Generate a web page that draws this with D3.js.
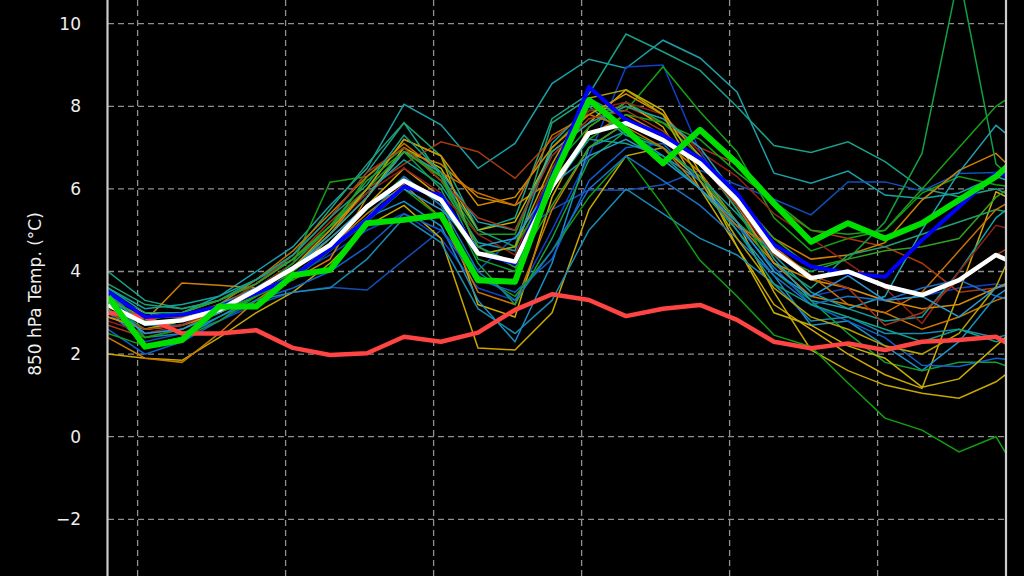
<!DOCTYPE html>
<html>
<head>
<meta charset="utf-8">
<script src="https://cdn.jsdelivr.net/npm/d3@7"></script>
<style>
  html, body { margin: 0; padding: 0; background: #000; }
  svg { display: block; }
</style>
</head>
<body>
<svg id="chart" width="1024" height="576"></svg>
<script>
// lead time of each point (hours, 6-hourly)
const leadHours = [0, 6, 12, 18, 24, 30, 36, 42, 48, 54, 60, 66, 72, 78, 84, 90, 96, 102, 108, 114, 120, 126, 132, 138, 144, 150];
const gridHours = [4.8, 28.8, 52.8, 76.8, 100.8, 124.8];
const yTicks = [-2, 0, 2, 4, 6, 8, 10];

// highlighted series
const ensMean  = [3.19, 2.74, 2.82, 3.07, 3.55, 4.08, 4.64, 5.57, 6.2, 5.73, 4.44, 4.24, 6.05, 7.35, 7.59, 7.18, 6.62, 5.73, 4.5, 3.84, 4.0, 3.65, 3.43, 3.79, 4.4, 4.0];
const detRun   = [3.51, 2.9, 2.95, 3.15, 3.47, 3.87, 4.55, 5.25, 6.05, 5.85, 4.45, 4.2, 6.3, 8.47, 7.67, 7.3, 6.74, 5.89, 4.65, 4.12, 3.96, 3.87, 4.76, 5.57, 6.38, 6.2];
const ctrlRun  = [3.39, 2.18, 2.34, 3.15, 3.15, 3.91, 4.04, 5.17, 5.25, 5.37, 3.79, 3.75, 6.2, 8.15, 7.43, 6.62, 7.43, 6.62, 5.65, 4.72, 5.17, 4.8, 5.17, 5.73, 6.3, 7.1];
const climate  = [3.0, 2.9, 2.5, 2.5, 2.58, 2.15, 1.98, 2.02, 2.42, 2.3, 2.52, 3.07, 3.45, 3.31, 2.92, 3.1, 3.19, 2.83, 2.3, 2.14, 2.26, 2.1, 2.3, 2.34, 2.42, 1.9];

// ensemble members
const memberColors = [
  "#1aa0a8", "#18a088", "#1040c8", "#14a014", "#1050b8", "#a83a10",
  "#c8a800", "#d0a800", "#d08000", "#c87800", "#1a90c8", "#12a0a0",
  "#10a030", "#1060d0", "#902018", "#c8b000", "#20a070", "#d88a00",
  "#1a8ab0", "#18a018", "#12a040", "#10a010", "#c87000", "#20a0b0",
  "#1a70c8", "#b8a000", "#a03818", "#10a088", "#2a98d0", "#30a020"
];
const members = [
  [3.5, 2.9, 3.0, 3.4, 4.0, 4.6, 5.6, 6.5, 8.05, 7.55, 6.5, 7.1, 8.55, 9.14, 8.92, 9.6, 9.17, 8.35, 6.38, 6.14, 6.43, 5.85, 5.77, 5.9, 6.3, 6.0],
  [4.0, 3.3, 3.1, 3.3, 3.8, 4.4, 5.3, 6.4, 7.6, 6.3, 5.0, 5.3, 7.7, 8.3, 9.75, 9.32, 8.87, 7.99, 7.05, 6.88, 7.14, 6.66, 6.01, 5.81, 6.0, 5.6],
  [3.3, 2.5, 2.6, 3.0, 3.5, 3.9, 4.4, 5.0, 5.4, 4.8, 3.6, 3.3, 5.0, 6.8, 8.95, 9.0, 6.9, 5.6, 4.2, 3.4, 3.6, 3.3, 3.4, 3.6, 3.7, 3.5],
  [3.0, 2.6, 2.8, 3.2, 3.6, 4.2, 6.16, 6.3, 7.0, 6.2, 4.9, 4.9, 7.0, 7.9, 7.9, 8.96, 7.87, 6.9, 5.3, 4.5, 4.8, 5.0, 5.9, 6.3, 6.1, 6.0],
  [3.0, 2.3, 2.5, 2.8, 3.2, 3.5, 3.62, 3.55, 4.28, 5.0, 4.03, 4.84, 5.5, 5.98, 5.97, 6.1, 6.45, 6.1, 5.75, 5.37, 6.17, 6.17, 5.95, 6.37, 6.4, 6.2],
  [2.7, 2.4, 2.6, 3.1, 3.7, 4.3, 5.2, 6.0, 6.6, 7.14, 6.9, 6.26, 7.2, 7.9, 8.0, 7.6, 7.0, 6.6, 5.6, 5.0, 4.8, 4.6, 4.2, 3.5, 3.6, 3.8],
  [2.0, 1.9, 1.85, 2.4, 3.0, 3.5, 4.2, 5.1, 5.6, 4.8, 2.15, 2.1, 3.0, 5.5, 6.8, 7.0, 6.2, 5.2, 3.5, 2.1, 1.6, 1.25, 1.05, 0.93, 1.33, 2.0],
  [2.9, 2.6, 2.7, 3.0, 3.4, 4.0, 4.8, 5.6, 6.5, 5.8, 3.2, 2.9, 5.8, 7.5, 8.1, 7.5, 6.0, 4.6, 3.2, 2.6, 2.0, 1.5, 1.17, 3.5, 5.93, 5.5],
  [3.2, 2.8, 3.72, 3.67, 3.6, 3.8, 4.3, 5.8, 6.9, 6.6, 5.8, 5.6, 6.2, 7.3, 7.8, 7.3, 6.6, 5.8, 4.8, 4.3, 4.4, 4.7, 5.73, 6.45, 6.86, 6.0],
  [2.4, 1.9, 1.8, 2.5, 3.3, 3.9, 4.6, 5.4, 6.1, 5.3, 3.5, 3.2, 5.5, 7.0, 7.6, 7.2, 6.4, 5.2, 4.2, 3.4, 3.2, 3.0, 2.6, 2.9, 3.3, 3.6],
  [3.1, 2.2, 2.4, 2.9, 3.4, 3.9, 4.6, 5.3, 5.7, 5.1, 3.3, 2.3, 4.2, 7.0, 7.4, 6.8, 6.2, 5.0, 3.9, 2.7, 2.8, 2.2, 1.6, 2.3, 3.4, 4.0],
  [3.6, 3.1, 3.2, 3.4, 3.8, 4.3, 5.1, 5.9, 6.7, 6.1, 4.7, 4.5, 7.1, 8.0, 7.3, 7.0, 6.3, 5.4, 4.4, 3.5, 3.1, 2.8, 2.9, 4.0, 5.3, 6.0],
  [3.3, 2.9, 3.0, 3.3, 3.7, 4.3, 5.0, 6.3, 7.0, 6.3, 4.3, 4.0, 6.5, 7.5, 8.1, 7.6, 6.8, 5.5, 4.0, 3.3, 2.5, 1.8, 1.6, 1.8, 1.8, 1.5],
  [2.6, 2.0, 2.3, 2.8, 3.3, 3.6, 4.0, 4.6, 5.4, 5.0, 3.8, 3.5, 4.3, 6.2, 7.0, 7.1, 6.2, 5.1, 4.1, 3.2, 2.8, 2.4, 1.73, 1.7, 1.9, 1.8],
  [2.8, 2.5, 2.7, 3.1, 3.6, 4.2, 5.0, 5.9, 6.5, 5.9, 4.9, 4.4, 6.5, 7.9, 8.1, 7.8, 6.9, 6.3, 5.4, 4.8, 4.2, 3.6, 2.74, 4.0, 5.12, 4.9],
  [3.4, 3.0, 2.9, 3.1, 3.5, 4.1, 4.9, 5.8, 7.0, 6.5, 5.0, 5.2, 6.9, 7.6, 8.4, 7.9, 6.4, 4.6, 3.0, 2.7, 2.2, 1.9, 1.2, 1.4, 2.2, 3.0],
  [3.7, 3.2, 3.1, 3.3, 3.7, 4.4, 5.5, 6.6, 7.6, 6.8, 5.0, 4.6, 7.6, 8.2, 7.7, 7.2, 6.7, 5.5, 4.2, 3.6, 4.4, 4.6, 4.9, 5.2, 5.5, 5.3],
  [2.9, 2.6, 2.7, 3.0, 3.5, 4.1, 4.9, 6.0, 7.2, 6.8, 5.6, 5.8, 7.0, 7.8, 8.3, 7.8, 6.8, 5.6, 4.2, 3.8, 3.6, 3.3, 3.1, 3.2, 3.6, 4.0],
  [3.5, 2.4, 2.5, 2.9, 3.3, 3.5, 3.6, 4.3, 5.3, 4.7, 3.1, 2.5, 3.3, 5.0, 6.0, 5.4, 4.8, 4.4, 3.7, 2.8, 2.9, 2.5, 2.5, 2.6, 2.4, 2.6],
  [2.5, 2.2, 2.4, 2.8, 3.4, 4.0, 4.7, 5.5, 6.3, 5.6, 4.4, 4.6, 6.1, 7.2, 7.8, 7.6, 7.2, 6.4, 5.7, 5.0, 4.9, 5.0, 6.0, 7.0, 8.0, 8.6],
  [3.2, 2.6, 2.8, 3.1, 3.5, 4.2, 5.1, 6.0, 6.9, 6.0, 4.2, 3.2, 4.8, 6.7, 7.4, 7.0, 6.3, 5.2, 4.4, 4.0, 4.3, 5.2, 6.86, 11.2, 6.6, 5.8],
  [3.1, 2.4, 2.6, 3.0, 3.4, 3.8, 4.5, 5.2, 6.0, 5.3, 3.9, 3.4, 4.5, 5.8, 6.8, 5.6, 4.27, 3.4, 2.46, 2.18, 1.3, 0.45, 0.16, -0.37, 0.0, -1.5],
  [3.3, 2.9, 2.9, 3.2, 3.8, 4.5, 5.4, 6.3, 7.1, 6.4, 5.9, 5.6, 7.3, 7.8, 7.5, 7.0, 6.0, 5.1, 4.6, 3.9, 3.2, 3.0, 3.5, 4.5, 5.5, 6.0],
  [3.4, 2.7, 2.8, 3.2, 3.6, 4.1, 4.9, 5.8, 6.9, 6.4, 5.2, 5.0, 6.9, 7.6, 8.0, 7.7, 7.0, 5.8, 4.3, 3.3, 3.1, 3.4, 5.0, 6.4, 7.54, 6.8],
  [3.5, 2.7, 2.7, 3.1, 3.6, 4.1, 4.6, 5.3, 6.3, 5.6, 4.0, 3.3, 4.5, 6.0, 6.8, 6.2, 5.6, 4.8, 3.9, 3.2, 3.4, 3.3, 3.6, 3.8, 3.4, 3.2],
  [3.0, 2.6, 2.8, 3.0, 3.5, 4.1, 5.0, 6.0, 7.2, 6.8, 4.4, 4.6, 6.6, 8.2, 8.4, 7.8, 6.2, 4.8, 3.6, 2.9, 2.6, 2.2, 2.0, 2.5, 3.63, 5.6],
  [3.0, 2.6, 2.7, 3.1, 3.7, 4.4, 5.3, 6.4, 7.0, 6.2, 5.3, 5.0, 6.8, 7.7, 7.9, 7.4, 6.6, 5.6, 4.4, 3.9, 3.6, 2.7, 3.0, 3.8, 4.4, 4.9],
  [3.6, 3.0, 3.0, 3.3, 3.8, 4.4, 5.3, 6.1, 7.3, 6.4, 4.6, 4.2, 6.0, 7.2, 7.1, 6.8, 6.0, 5.0, 3.7, 3.2, 2.9, 2.6, 2.3, 2.6, 2.3, 2.5],
  [3.2, 2.5, 2.6, 3.0, 3.5, 4.1, 4.8, 5.6, 6.0, 5.5, 4.6, 4.8, 6.1, 6.8, 7.2, 6.7, 6.0, 5.2, 4.0, 3.4, 3.9, 3.3, 3.4, 2.9, 3.6, 3.9],
  [3.4, 2.8, 3.0, 3.3, 3.7, 4.3, 5.1, 6.2, 6.9, 6.3, 4.6, 4.1, 5.6, 7.0, 7.6, 7.3, 6.7, 5.8, 4.8, 4.1, 4.3, 4.5, 4.6, 4.8, 5.8, 6.4]
];

const svg = d3.select("#chart");
const width = 1024, height = 576;
const left = 108, right = 1006;

svg.append("rect").attr("width", width).attr("height", height).attr("fill", "#000");

const x = d3.scaleLinear().domain([0, 150]).range([108, 1033]);
const y = d3.scaleLinear().domain([0, 10]).range([436.7, 23.7]);

svg.append("defs").append("clipPath").attr("id", "plot-clip")
  .append("rect").attr("x", left).attr("y", -50).attr("width", right - left).attr("height", height + 100);

// grid
const grid = svg.append("g").attr("stroke", "#909090").attr("stroke-width", 1.3).attr("stroke-dasharray", "6,4");
grid.selectAll(".hgrid").data(yTicks).join("line")
  .attr("x1", left).attr("x2", right)
  .attr("y1", d => y(d)).attr("y2", d => y(d));
grid.selectAll(".vgrid").data(gridHours).join("line")
  .attr("x1", d => x(d)).attr("x2", d => x(d))
  .attr("y1", 0).attr("y2", height);

const plot = svg.append("g").attr("clip-path", "url(#plot-clip)");
const line = d3.line().x((d, i) => x(leadHours[i])).y(d => y(d));

plot.selectAll(".member").data(members).join("path")
  .attr("class", "member")
  .attr("fill", "none")
  .attr("stroke", (d, i) => memberColors[i % memberColors.length])
  .attr("stroke-width", 1.5)
  .attr("d", line);

const highlight = [
  { values: climate, color: "#ff4444", w: 4.5 },
  { values: detRun, color: "#0000ff", w: 4 },
  { values: ensMean, color: "#ffffff", w: 4.5 },
  { values: ctrlRun, color: "#00e000", w: 6 }
];
plot.selectAll(".hl").data(highlight).join("path")
  .attr("class", "hl")
  .attr("fill", "none")
  .attr("stroke", d => d.color)
  .attr("stroke-width", d => d.w)
  .attr("stroke-linejoin", "round")
  .attr("d", d => line(d.values));

// spines
svg.append("line").attr("x1", left - 0.5).attr("x2", left - 0.5).attr("y1", 0).attr("y2", height)
  .attr("stroke", "#cccccc").attr("stroke-width", 2.2);
svg.append("line").attr("x1", right).attr("x2", right).attr("y1", 0).attr("y2", height)
  .attr("stroke", "#cccccc").attr("stroke-width", 2.2);

// y tick labels
svg.selectAll(".ytick").data(yTicks).join("text")
  .attr("x", 81).attr("y", d => y(d))
  .attr("dy", "0.35em")
  .attr("text-anchor", "end")
  .attr("fill", "#eeeeee")
  .attr("font-family", "DejaVu Sans")
  .attr("font-size", 17)
  .text(d => d < 0 ? "\u2212" + Math.abs(d) : d);

svg.append("text")
  .attr("transform", "translate(41,294) rotate(-90)")
  .attr("text-anchor", "middle")
  .attr("fill", "#eeeeee")
  .attr("font-family", "DejaVu Sans")
  .attr("font-size", 17)
  .text("850 hPa Temp. (°C)");
</script>
</body>
</html>
